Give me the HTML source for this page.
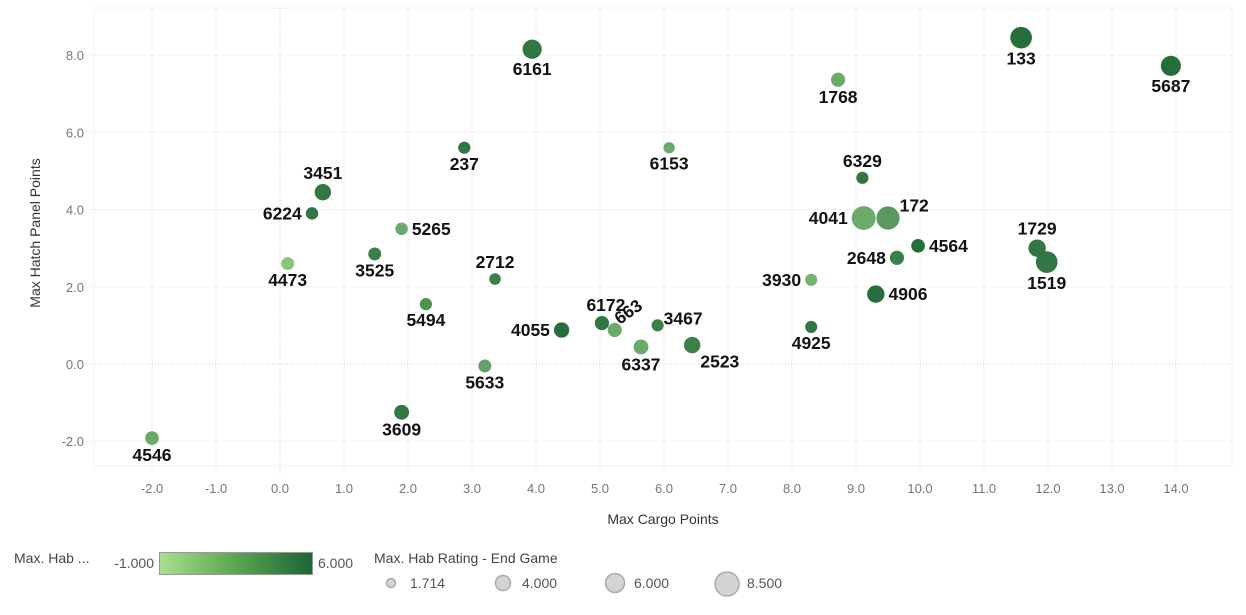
<!DOCTYPE html>
<html><head><meta charset="utf-8"><style>
body{margin:0;background:#fff;width:1246px;height:610px;overflow:hidden;font-family:"Liberation Sans",sans-serif}
svg text{font-family:"Liberation Sans",sans-serif}
</style></head><body>
<svg id="chart" width="1246" height="610" xmlns="http://www.w3.org/2000/svg">
<defs><linearGradient id="grad" x1="0" x2="1" y1="0" y2="0"><stop offset="0" stop-color="#a8de93"/><stop offset="0.5" stop-color="#5aa552"/><stop offset="1" stop-color="#1d6536"/></linearGradient></defs>
<g id="grid"></g>
<g id="ticks"></g>
<g id="points"></g>
<g id="labels"></g>
<text x="663" y="524" font-size="14" fill="#333" text-anchor="middle">Max Cargo Points</text>
<text transform="translate(40,233) rotate(-90)" font-size="14" fill="#333" text-anchor="middle">Max Hatch Panel Points</text>
<g>
<text x="14" y="563" font-size="14" fill="#444">Max. Hab ...</text>
<text x="154" y="568" font-size="14" fill="#555" text-anchor="end">-1.000</text>
<rect x="159.5" y="552.5" width="153" height="22" fill="url(#grad)" stroke="#999"/>
<text x="318" y="568" font-size="14" fill="#555">6.000</text>
</g>
<g>
<text x="374" y="563" font-size="14" fill="#444">Max. Hab Rating - End Game</text>
<circle cx="391" cy="583" r="4.5" fill="#d4d4d4" stroke="#aaa" stroke-width="1.5"/>
<text x="410" y="588" font-size="14" fill="#555">1.714</text>
<circle cx="503" cy="583" r="7.5" fill="#d4d4d4" stroke="#aaa" stroke-width="1.5"/>
<text x="522" y="588" font-size="14" fill="#555">4.000</text>
<circle cx="615" cy="583" r="9.5" fill="#d4d4d4" stroke="#aaa" stroke-width="1.5"/>
<text x="634" y="588" font-size="14" fill="#555">6.000</text>
<circle cx="727" cy="584" r="12" fill="#d4d4d4" stroke="#aaa" stroke-width="1.5"/>
<text x="747" y="588" font-size="14" fill="#555">8.500</text>
</g>
</svg>
<script>
const teams=["4546","3609","5633","4473","6224","3451","3525","5265","5494","237","6161","2712","4055","6172","663","6337","3467","2523","6153","1768","3930","4925","6329","4041","172","2648","4906","4564","1729","1519","133","5687"];
const cargo=[-2,1.9,3.2,0.12,0.5,0.67,1.48,1.9,2.28,2.88,3.94,3.36,4.4,5.03,5.23,5.64,5.9,6.44,6.08,8.72,8.3,8.3,9.1,9.12,9.5,9.64,9.31,9.97,11.83,11.98,11.58,13.92];
const hatch=[-1.92,-1.25,-0.05,2.6,3.9,4.45,2.85,3.5,1.55,5.6,8.15,2.2,0.88,1.06,0.88,0.44,1.0,0.49,5.6,7.36,2.18,0.96,4.82,3.78,3.78,2.75,1.81,3.06,3.0,2.64,8.45,7.72];
const colorVal=[2,5,2.5,0.5,5,5,4.5,2,3.5,5,5,4.5,5.5,5,2,2,4.5,4.5,2,2,1.5,5,5,2,3,4.5,5.5,5.5,5,5,5.5,5.5];
const sizeVal=[2.8,3.3,2.5,2.5,2.3,4,2.5,2.3,2.2,2.2,5.5,2,3.5,3,3,3.3,2.2,4,1.9,3,2.2,2.2,2.2,8.5,8,3,4.5,2.8,4.5,7,7,6];
const labelPos=["b","b","b","b","l","t","b","r","b","b","b","t","l","tl","rot","b","tr","br","b","b","l","b","t","l","tr","l","r","r","t","b","b","b"];
const xTicks=[-2,-1,0,1,2,3,4,5,6,7,8,9,10,11,12,13,14];
const yTicks=[-2,0,2,4,6,8];
const X=v=>280+v*64, Y=v=>364-v*38.62;
const L=94,R=1232,T=8,B=466;
const ns="http://www.w3.org/2000/svg";
function mk(t,a,p){const e=document.createElementNS(ns,t);for(const k in a)e.setAttribute(k,a[k]);p.appendChild(e);return e;}
const g=document.getElementById('grid'),tk=document.getElementById('ticks');
mk('rect',{x:L,y:T,width:R-L,height:B-T,fill:'none',stroke:'#f3f3f3'},g);
xTicks.forEach(v=>{const l=mk('line',{x1:X(v),x2:X(v),y1:T,y2:B+8,stroke:v===0?'#ccc':'#f3f3f3','stroke-dasharray':v===0?'1,2':''},g);

const t=mk('text',{x:X(v),y:493,'font-size':13,fill:'#777','text-anchor':'middle'},tk);t.textContent=v.toFixed(1);
});
yTicks.forEach(v=>{const l=mk('line',{x1:L-8,x2:R,y1:Y(v),y2:Y(v),stroke:v===0?'#ccc':'#f3f3f3','stroke-dasharray':v===0?'1,2':''},g);

const t=mk('text',{x:84,y:Y(v)+5,'font-size':13,fill:'#777','text-anchor':'end'},tk);t.textContent=v.toFixed(1);
});
const c0=[168,222,147],c1=[29,101,54];
function col(v){const f=Math.max(0,Math.min(1,(v+1)/7));return 'rgb('+c0.map((c,i)=>Math.round(c+(c1[i]-c)*f)).join(',')+')';}
const pg=document.getElementById('points'),lg=document.getElementById('labels');
teams.forEach((n,i)=>{const cx=X(cargo[i]),cy=Y(hatch[i]),r=4.1*Math.sqrt(sizeVal[i]);
const c=mk('circle',{cx:cx,cy:cy,r:r,fill:col(colorVal[i])},pg);

let x=cx,y=cy,a='middle',tr='';const p=labelPos[i];
if(p==='b'){y=cy+r+16;}else if(p==='t'){y=cy-r-5;}else if(p==='l'){x=cx-r-4;y=cy+6;a='end';}
else if(p==='r'){x=cx+r+4;y=cy+6;a='start';}else if(p==='tr'){x=cx+r;y=cy-r+5;a='start';}
else if(p==='tl'){x=cx+4;y=cy-r-5;a='middle';}
else if(p==='br'){x=cx+r;y=cy+r+14;a='start';}else if(p==='rot'){x=cx+5;y=cy-5;a='start';tr='rotate(-35 '+x+' '+y+')';}
const t=mk('text',{x:x,y:y,'font-size':17.5,'font-weight':'bold',fill:'#111','text-anchor':a},lg);if(tr)t.setAttribute('transform',tr);
t.textContent=n;});
</script>
</body></html>
